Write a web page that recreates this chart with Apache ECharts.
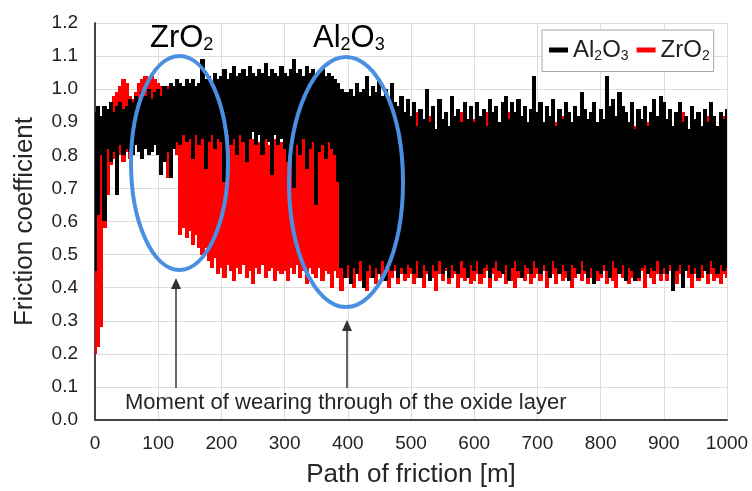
<!DOCTYPE html>
<html>
<head>
<meta charset="utf-8">
<script src="https://cdn.jsdelivr.net/npm/echarts@6/dist/echarts.min.js"></script>
<style>
html,body{margin:0;padding:0;background:#fff;}
#c{width:752px;height:491px;}
</style>
</head>
<body>
<div id="c"></div>
<script>
// Sliding path [m] (sampled every 5 m)
const pathM = [
0,5,10,15,20,25,30,35,40,45,50,55,60,65,70,75,80,85,90,95,
100,105,110,115,120,125,130,135,140,145,150,155,160,165,170,175,180,185,190,195,
200,205,210,215,220,225,230,235,240,245,250,255,260,265,270,275,280,285,290,295,
300,305,310,315,320,325,330,335,340,345,350,355,360,365,370,375,380,385,390,395,
400,405,410,415,420,425,430,435,440,445,450,455,460,465,470,475,480,485,490,495,
500,505,510,515,520,525,530,535,540,545,550,555,560,565,570,575,580,585,590,595,
600,605,610,615,620,625,630,635,640,645,650,655,660,665,670,675,680,685,690,695,
700,705,710,715,720,725,730,735,740,745,750,755,760,765,770,775,780,785,790,795,
800,805,810,815,820,825,830,835,840,845,850,855,860,865,870,875,880,885,890,895,
900,905,910,915,920,925,930,935,940,945,950,955,960,965,970,975,980,985,990,995,
1000];

// Al2O3 friction coefficient: upper and lower envelope of the trace
const al2o3High = [
0.93,0.95,0.92,0.95,0.94,0.96,0.93,0.95,0.96,0.94,0.95,0.97,0.96,0.98,0.97,0.99,0.98,1.00,0.97,0.99,
1.00,0.98,1.01,1.00,1.02,1.01,1.03,1.02,1.01,1.03,1.02,1.03,1.01,1.02,1.09,1.03,1.04,1.02,1.05,1.03,
1.04,1.06,1.03,1.05,1.07,1.04,1.05,1.06,1.04,1.07,1.05,1.04,1.06,1.05,1.08,1.04,1.06,1.05,1.04,1.07,
1.05,1.04,1.06,1.09,1.05,1.06,1.04,1.07,1.05,1.06,1.04,1.05,1.06,1.04,1.05,1.04,1.03,1.02,1.00,0.99,
0.99,1.00,0.98,1.02,0.99,1.00,1.04,0.98,1.01,0.99,1.03,0.98,1.00,0.97,1.02,0.96,0.95,0.98,0.93,0.97,
0.92,0.96,0.89,0.94,0.91,1.00,0.90,0.95,0.88,0.97,0.91,0.93,0.89,0.98,0.92,0.94,0.90,0.96,0.91,0.95,
0.90,0.96,0.92,0.94,0.89,0.97,0.93,0.95,0.90,0.96,0.98,0.91,0.96,0.93,0.97,0.92,0.95,0.90,0.94,1.04,
0.93,0.96,0.90,0.95,0.92,0.97,0.89,0.94,0.91,0.96,0.93,0.90,0.95,0.92,0.99,0.94,0.91,0.93,0.96,0.90,
0.94,0.91,1.04,0.95,0.97,0.92,0.99,0.95,0.93,0.90,0.96,0.88,0.94,0.91,0.95,0.89,0.93,0.97,0.92,0.98,
0.96,0.91,0.94,0.89,0.93,0.96,0.90,0.92,0.88,0.95,0.91,0.93,0.89,0.94,0.90,0.96,0.92,0.89,0.93,0.91,
0.94];
const al2o3Low = [
0.45,0.62,0.80,0.60,0.82,0.78,0.81,0.68,0.83,0.80,0.82,0.81,0.80,0.83,0.81,0.79,0.82,0.80,0.81,0.83,
0.80,0.74,0.78,0.81,0.73,0.82,0.84,0.83,0.86,0.84,0.85,0.79,0.86,0.83,0.85,0.76,0.84,0.86,0.82,0.85,
0.84,0.72,0.86,0.83,0.85,0.80,0.86,0.84,0.78,0.85,0.87,0.83,0.86,0.80,0.85,0.84,0.74,0.86,0.83,0.85,
0.82,0.78,0.84,0.70,0.83,0.80,0.85,0.76,0.82,0.84,0.65,0.81,0.83,0.79,0.84,0.82,0.80,0.72,0.46,0.43,
0.47,0.41,0.46,0.44,0.48,0.40,0.45,0.47,0.43,0.46,0.44,0.48,0.42,0.46,0.45,0.47,0.43,0.46,0.44,0.47,
0.46,0.44,0.48,0.43,0.47,0.45,0.42,0.47,0.45,0.48,0.44,0.46,0.43,0.47,0.45,0.44,0.48,0.46,0.43,0.47,
0.45,0.48,0.44,0.46,0.47,0.43,0.46,0.48,0.45,0.44,0.47,0.42,0.46,0.48,0.45,0.43,0.47,0.46,0.44,0.48,
0.46,0.44,0.47,0.45,0.43,0.48,0.46,0.44,0.47,0.45,0.42,0.47,0.46,0.44,0.48,0.45,0.43,0.46,0.41,0.45,
0.44,0.47,0.45,0.43,0.48,0.46,0.44,0.47,0.42,0.46,0.45,0.42,0.43,0.46,0.47,0.44,0.46,0.45,0.48,0.44,
0.46,0.44,0.47,0.39,0.45,0.47,0.40,0.45,0.47,0.44,0.46,0.43,0.47,0.45,0.44,0.48,0.46,0.44,0.47,0.45,
0.46];

// ZrO2 friction coefficient: upper and lower envelope of the trace
const zro2High = [
0.80,0.86,0.90,0.93,0.94,0.96,0.98,0.99,1.01,1.03,1.02,0.98,0.97,0.99,1.02,1.03,1.04,1.03,1.04,1.03,
1.02,1.01,1.00,1.01,0.99,1.00,0.98,0.86,0.87,0.85,0.86,0.84,0.87,0.85,0.86,0.88,0.85,0.86,0.84,0.87,
0.86,0.84,0.87,0.85,0.86,0.83,0.87,0.85,0.84,0.86,0.85,0.87,0.84,0.86,0.85,0.83,0.86,0.85,0.87,0.84,
0.85,0.86,0.84,0.87,0.85,0.83,0.86,0.84,0.85,0.86,0.84,0.85,0.83,0.86,0.84,0.85,0.84,0.83,0.88,0.90,
0.89,0.91,0.88,0.92,0.90,0.87,0.93,0.89,0.91,0.88,0.92,0.90,0.87,0.91,0.89,0.93,0.88,0.90,0.92,0.89,
0.90,0.88,0.93,0.89,0.91,0.87,0.92,0.90,0.88,0.93,0.89,0.91,0.86,0.92,0.90,0.88,0.93,0.89,0.91,0.87,
0.91,0.89,0.92,0.88,0.93,0.90,0.87,0.92,0.89,0.91,0.88,0.93,0.90,0.87,0.91,0.89,0.92,0.88,0.90,0.93,
0.89,0.92,0.88,0.91,0.87,0.93,0.90,0.88,0.92,0.89,0.91,0.87,0.93,0.90,0.88,0.91,0.89,0.92,0.87,0.90,
0.92,0.88,0.90,0.93,0.89,0.91,0.87,0.92,0.90,0.88,0.93,0.89,0.91,0.86,0.92,0.90,0.88,0.91,0.89,0.93,
0.90,0.88,0.92,0.89,0.91,0.87,0.93,0.90,0.88,0.92,0.89,0.91,0.87,0.90,0.92,0.88,0.91,0.89,0.90,0.92,
0.90];
const zro2Low = [
0.20,0.22,0.28,0.58,0.68,0.77,0.79,0.75,0.80,0.78,0.81,0.79,0.84,0.85,0.83,0.84,0.83,0.85,0.84,0.85,
0.83,0.82,0.80,0.73,0.74,0.82,0.80,0.56,0.58,0.55,0.57,0.53,0.56,0.52,0.50,0.52,0.48,0.46,0.49,0.44,
0.46,0.43,0.47,0.45,0.42,0.46,0.44,0.47,0.43,0.45,0.41,0.46,0.44,0.47,0.43,0.45,0.46,0.42,0.45,0.44,
0.45,0.42,0.46,0.44,0.47,0.43,0.45,0.41,0.46,0.44,0.43,0.46,0.42,0.45,0.44,0.40,0.45,0.43,0.39,0.44,
0.43,0.45,0.40,0.44,0.42,0.45,0.39,0.43,0.44,0.41,0.45,0.42,0.44,0.40,0.43,0.45,0.41,0.44,0.42,0.43,
0.44,0.41,0.43,0.45,0.40,0.44,0.42,0.43,0.39,0.44,0.42,0.45,0.41,0.43,0.44,0.40,0.43,0.42,0.45,0.41,
0.42,0.44,0.41,0.43,0.45,0.40,0.44,0.42,0.43,0.45,0.41,0.44,0.42,0.40,0.43,0.45,0.42,0.44,0.41,0.43,
0.44,0.42,0.45,0.40,0.43,0.44,0.41,0.45,0.42,0.43,0.44,0.40,0.43,0.45,0.42,0.44,0.41,0.43,0.45,0.42,
0.43,0.45,0.41,0.44,0.42,0.40,0.44,0.43,0.45,0.41,0.43,0.44,0.42,0.45,0.40,0.44,0.43,0.41,0.44,0.42,
0.44,0.42,0.45,0.43,0.41,0.44,0.42,0.45,0.43,0.40,0.44,0.42,0.43,0.45,0.41,0.44,0.42,0.43,0.41,0.44,
0.43];

const xTicks = {min: 0, max: 1000, interval: 100};
const yTicks = {min: 0, max: 1.2, interval: 0.1};
const seriesNames = ['Al2O3', 'ZrO2'];

const FONT = "'Liberation Sans', Arial, sans-serif";
const SAMPLE_STEP = 5;

function buildRows(lo, hi) {
  return pathM.map((m, i) => [m, lo[i], hi[i]]);
}

function bandRender(params, api) {
  const x = api.value(0), lo = api.value(1), hi = api.value(2);
  const top = api.coord([x, hi]);
  const bot = api.coord([x, lo]);
  const w = api.size([SAMPLE_STEP, 0])[0];
  const x0 = Math.floor(top[0] - w / 2);
  const x1 = Math.ceil(top[0] + w / 2);
  const y0 = Math.round(top[1]);
  const y1 = Math.round(bot[1]);
  return {
    type: 'rect',
    shape: {x: x0, y: y0, width: x1 - x0, height: y1 - y0},
    style: {fill: api.visual('color')}
  };
}

const subRich = {
  n: {fontSize: 24, lineHeight: 27, color: '#222', fontFamily: FONT},
  s: {fontSize: 14, lineHeight: 10, verticalAlign: 'bottom', color: '#222', fontFamily: FONT}
};

const chart = echarts.init(document.getElementById('c'), null, {renderer: 'canvas'});

const titleRich = {
  n: {fontSize: 31, lineHeight: 32, color: '#262626', fontFamily: FONT},
  s: {fontSize: 18, lineHeight: 12, verticalAlign: 'bottom', color: '#262626', fontFamily: FONT}
};

const BLUE = '#4a90e2';
const ARROW = '#333';

chart.setOption({
  animation: false,
  backgroundColor: '#fff',
  grid: {left: 95, right: 25, top: 23, bottom: 71, containLabel: false, outerBoundsMode: 'none'},
  legend: {
    data: seriesNames,
    left: 542, top: 30,
    padding: [8, 4, 8, 7],
    itemGap: 8,
    itemWidth: 19, itemHeight: 5,
    icon: 'rect',
    borderColor: '#a6a6a6', borderWidth: 1,
    backgroundColor: '#fff',
    z: 20,
    formatter: function (name) {
      return name === 'Al2O3' ? '{n|Al}{s|2}{n|O}{s|3}' : '{n|ZrO}{s|2}';
    },
    textStyle: {rich: subRich, fontFamily: FONT}
  },
  xAxis: {
    type: 'value',
    min: xTicks.min, max: xTicks.max, interval: xTicks.interval,
    name: 'Path of friction [m]',
    nameLocation: 'middle', nameGap: 42,
    nameTextStyle: {fontSize: 26, color: '#262626', fontFamily: FONT},
    axisLine: {show: true, onZero: false, lineStyle: {color: '#444', width: 2}},
    axisTick: {show: false},
    axisLabel: {fontSize: 19, color: '#222', margin: 14, fontFamily: FONT,
      formatter: v => String(v)},
    splitLine: {show: true, lineStyle: {color: '#dcdcdc', width: 1}}
  },
  yAxis: {
    type: 'value',
    min: yTicks.min, max: yTicks.max, interval: yTicks.interval,
    name: 'Friction coefficient',
    nameLocation: 'middle', nameGap: 57, nameRotate: 90,
    nameTextStyle: {fontSize: 26, color: '#262626', fontFamily: FONT},
    axisLine: {show: true, lineStyle: {color: '#444', width: 2}},
    axisTick: {show: false},
    axisLabel: {fontSize: 19, color: '#222', margin: 17, fontFamily: FONT,
      formatter: v => v.toFixed(1)},
    splitLine: {show: true, lineStyle: {color: '#dcdcdc', width: 1}}
  },
  series: [
    {
      name: 'ZrO2', type: 'custom', clip: true, z: 2,
      itemStyle: {color: '#ff0000'},
      encode: {x: 0, y: [1, 2]},
      renderItem: bandRender,
      data: buildRows(zro2Low, zro2High)
    },
    {
      name: 'Al2O3', type: 'custom', clip: true, z: 3,
      itemStyle: {color: '#000000'},
      encode: {x: 0, y: [1, 2]},
      renderItem: bandRender,
      data: buildRows(al2o3Low, al2o3High)
    }
  ],
  graphic: [
    {type: 'text', z: 50, left: 150, top: 23,
      style: {text: '{n|ZrO}{s|2}', rich: titleRich}},
    {type: 'text', z: 50, left: 313, top: 23,
      style: {text: '{n|Al}{s|2}{n|O}{s|3}', rich: titleRich}},
    {type: 'ellipse', z: 50, shape: {cx: 179.5, cy: 163, rx: 48.5, ry: 107},
      style: {fill: 'none', stroke: BLUE, lineWidth: 4}},
    {type: 'ellipse', z: 50, shape: {cx: 346, cy: 182, rx: 57, ry: 125},
      style: {fill: 'none', stroke: BLUE, lineWidth: 4}},
    {type: 'line', z: 50, shape: {x1: 176, y1: 388, x2: 176, y2: 287},
      style: {stroke: ARROW, lineWidth: 1.5}},
    {type: 'polygon', z: 50, shape: {points: [[176, 278], [171, 289], [181, 289]]},
      style: {fill: ARROW}},
    {type: 'line', z: 50, shape: {x1: 347, y1: 388, x2: 347, y2: 329},
      style: {stroke: ARROW, lineWidth: 1.5}},
    {type: 'polygon', z: 50, shape: {points: [[347, 320], [342, 331], [352, 331]]},
      style: {fill: ARROW}},
    {type: 'text', z: 50, left: 125, top: 392,
      style: {text: 'Moment of wearing through of the oxide layer',
        fontSize: 22, fill: '#262626', fontFamily: FONT}}
  ]
});
</script>
</body>
</html>
